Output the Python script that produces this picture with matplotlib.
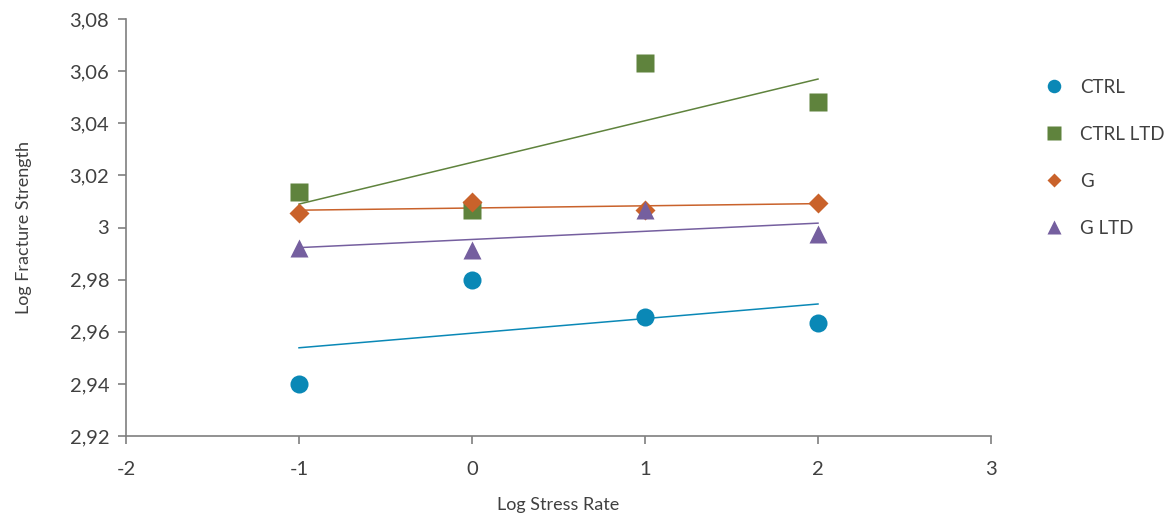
import numpy as np
import matplotlib
matplotlib.use('Agg')
import matplotlib.pyplot as plt
from matplotlib.ticker import FuncFormatter

plt.rcParams['font.family'] = ['Lato', 'DejaVu Sans']

stress = [-1, 0, 1, 2]
ctrl = [2.9400, 2.9800, 2.9655, 2.9635]
ctrl_ltd = [3.0137, 3.0068, 3.0632, 3.0482]
g = [3.0056, 3.0098, 3.0068, 3.0094]
g_ltd = [2.9922, 2.9914, 3.0068, 2.9975]

names = ['CTRL', 'CTRL LTD', 'G', 'G LTD']
series = [ctrl, ctrl_ltd, g, g_ltd]
colors = ['#0a88b6', '#5f833d', '#c9622b', '#755f9f']
markers = ['o', 's', 'D', '^']
sizes = [13, 13, 10, 13]

fig = plt.figure(figsize=(11.72, 5.17), dpi=100)
ax = fig.add_axes([126/1172, 81/517, 865/1172, 417/517])

x = np.array(stress)
handles = []
for name, y, c, m, s in zip(names, series, colors, markers, sizes):
    # linear trend line from x=-1 to 2
    k, b0 = np.polyfit(x, y, 1)
    xl = np.array([x.min(), x.max()])
    ax.plot(xl, k*xl + b0, color=c, lw=1.1, zorder=2)
    h, = ax.plot(x, y, ls='none', marker=m, ms=s, color=c, mec='none', zorder=3, label=name)
    handles.append(h)

ax.set_xlim(-2, 3)
ax.set_ylim(2.92, 3.08)
ax.set_xticks(np.arange(-2, 4, 1))
ax.set_yticks(np.arange(2.92, 3.0801, 0.02))

def comma(v, pos):
    s = f"{v:.2f}".rstrip('0').rstrip('.')
    return s.replace('.', ',')

ax.yaxis.set_major_formatter(FuncFormatter(comma))
ax.xaxis.set_major_formatter(FuncFormatter(lambda v, p: f"{int(round(v))}"))

for sp in ['top', 'right']:
    ax.spines[sp].set_visible(False)
for sp in ['left', 'bottom']:
    ax.spines[sp].set_color('#7f7f7f')
    ax.spines[sp].set_linewidth(1.2)
ax.tick_params(direction='out', length=6, width=1.2, color='#7f7f7f',
               labelsize=14.5, labelcolor='#404040')
ax.tick_params(axis='x', pad=12)
ax.tick_params(axis='y', pad=6)

ax.set_xlabel('Log Stress Rate', fontsize=13, color='#404040', labelpad=14)
ax.set_ylabel('Log Fracture Strength', fontsize=13, color='#404040', labelpad=27)

fig.legend(handles=handles, loc='upper left', bbox_to_anchor=(1028/1172, 1-62/517),
           frameon=False, fontsize=13.5, labelspacing=1.6, markerscale=0.75,
           handlelength=1.0, handletextpad=0.9, labelcolor='#404040')

fig.savefig('out.png', dpi=100)
